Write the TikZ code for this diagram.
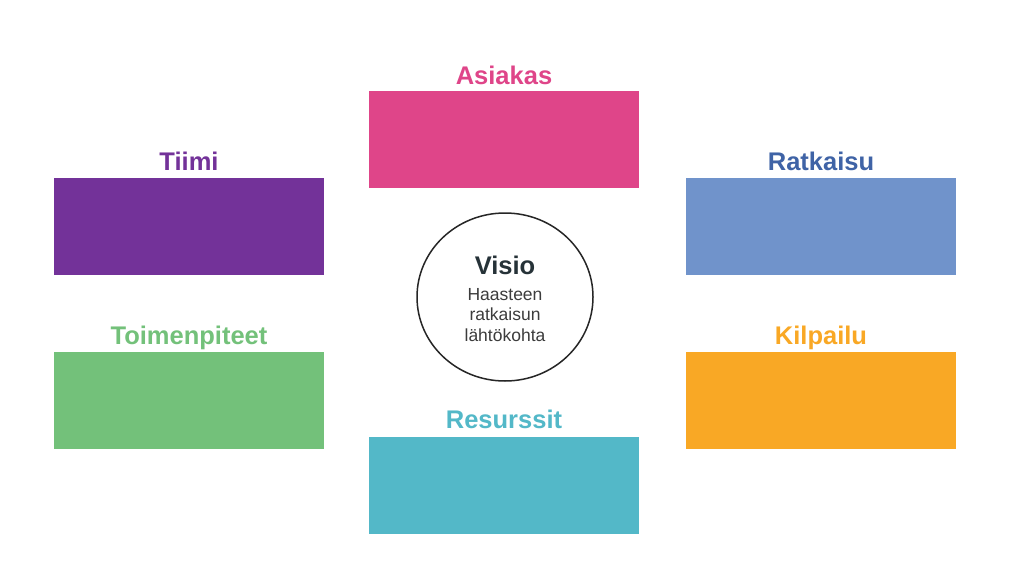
\documentclass[tikz,border=0pt]{standalone}
\usepackage{fontspec}
\setmainfont{Liberation Sans}
\usepackage{tikz}
\usetikzlibrary{positioning, shapes.geometric}

\definecolor{asiakasc}{HTML}{DF4589}
\definecolor{tiimic}{HTML}{733299}
\definecolor{ratkaisuc}{HTML}{7093CB}
\definecolor{ratkaisut}{HTML}{3F63A6}
\definecolor{toimc}{HTML}{73C17A}
\definecolor{kilpailuc}{HTML}{F9A825}
\definecolor{resurssitc}{HTML}{53B8C8}
\definecolor{visiotext}{HTML}{263238}
\definecolor{subtext}{HTML}{3C3C3C}

\tikzset{
    area/.style={minimum width=270pt, minimum height=97pt, inner sep=0pt, draw=none},
    title/.style={font=\fontsize{25.5}{30}\selectfont\bfseries, anchor=base, inner sep=0pt},
    subline/.style={font=\fontsize{17.5}{21}\selectfont, text=subtext, anchor=base, inner sep=0pt}
}

\begin{document}
\begin{tikzpicture}[x=1pt, y=-1pt]
    % Page frame
    \useasboundingbox[fill=white] (0,0) rectangle (1024,583);

    % Draw the six coloured areas
    \node[area, fill=asiakasc]   (asiakas)  at (504,139.5) {};
    \node[area, fill=tiimic]     (tiimi)    at (189,226.5) {};
    \node[area, fill=ratkaisuc]  (ratkaisu) at (821,226.5) {};
    \node[area, fill=toimc]      (toimenpiteet) at (189,400) {};
    \node[area, fill=kilpailuc]  (kilpailu) at (821,400) {};
    \node[area, fill=resurssitc] (resurssit) at (504,485) {};

    % Add titles above the areas
    \node[title, text=asiakasc]   (asiakaslbl)  at ([yshift=6.5pt]asiakas.north) {Asiakas};
    \node[title, text=tiimic]     (tiimilbl)    at ([yshift=7pt]tiimi.north) {Tiimi};
    \node[title, text=ratkaisut]  (ratkaisulbl) at ([yshift=7pt]ratkaisu.north) {Ratkaisu};
    \node[title, text=toimc]      (toimlbl)     at ([yshift=7pt]toimenpiteet.north) {Toimenpiteet};
    \node[title, text=kilpailuc]  (kilpailulbl) at ([yshift=7pt]kilpailu.north) {Kilpailu};
    \node[title, text=resurssitc] (resurssitlbl) at ([yshift=7.5pt]resurssit.north) {Resurssit};

    % Draw the centre circle
    \node[ellipse, draw=black!85, line width=1.5pt, minimum width=176pt, minimum height=168pt] (visio) at (505,297) {};
    \node[title, text=visiotext] (visiolbl) at (505,274) {Visio};
    \node[subline] (line1) at (505,300) {Haasteen};
    \node[subline] (line2) at (505,320.5) {ratkaisun};
    \node[subline] (line3) at (505,341) {lähtökohta};
\end{tikzpicture}
\end{document}
